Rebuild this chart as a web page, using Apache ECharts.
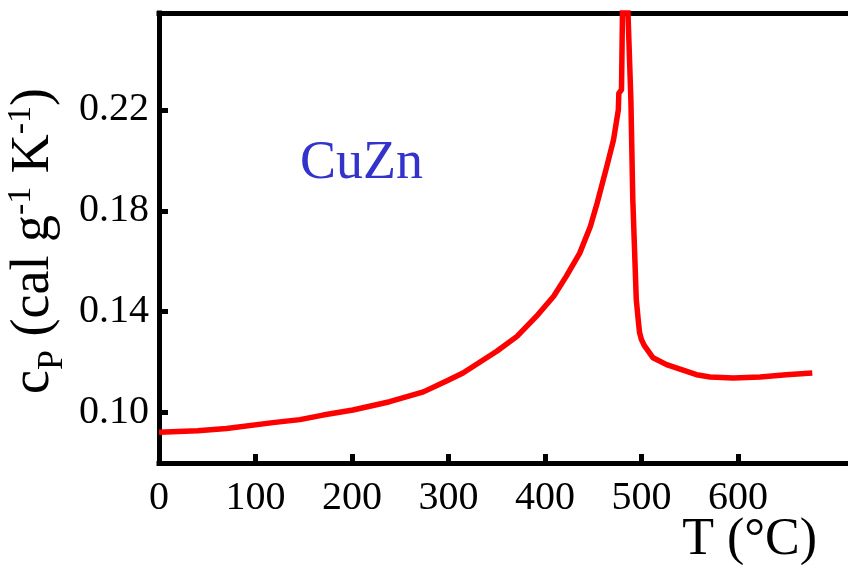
<!DOCTYPE html>
<html>
<head>
<meta charset="utf-8">
<style>html,body{margin:0;padding:0;background:#fff;}#chart{width:848px;height:566px;}</style>
<script src="https://cdn.jsdelivr.net/npm/echarts@6/dist/echarts.min.js"></script>
</head>
<body>
<div id="chart"></div>
<script>
// Temperature (°C)
const temps = [0, 40, 70, 118, 146, 170, 201, 239, 274, 298, 315, 350, 371, 391, 409, 422, 436, 447, 454, 464, 471, 476, 476.5, 479.3, 480.5, 485.5, 486, 489, 491, 494.6, 496.6, 498, 500, 503, 512, 526, 557, 571, 595, 623, 650, 677];
// Specific heat cP (cal g^-1 K^-1)
const cps = [0.0922, 0.0928, 0.0937, 0.0960, 0.0972, 0.0990, 0.1010, 0.1043, 0.1082, 0.1125, 0.1157, 0.1243, 0.1302, 0.1381, 0.1461, 0.1540, 0.1632, 0.1738, 0.1830, 0.1975, 0.2081, 0.2200, 0.2265, 0.2280, 0.2650, 0.2650, 0.2584, 0.2240, 0.1844, 0.1448, 0.1368, 0.1317, 0.1289, 0.1265, 0.1217, 0.1190, 0.1150, 0.1141, 0.1137, 0.1141, 0.1150, 0.1157];
const xTickLabels = [0, 100, 200, 300, 400, 500, 600];
const yTickLabels = [0.10, 0.14, 0.18, 0.22];
const materialLabel = 'CuZn';
const xTitle = 'T (°C)';
const yTitle = '{m|c}{sub|P}{m| (cal g}{sup|-1}{m| K}{sup|-1}{m|)}';

const serif = '"Liberation Serif", "Times New Roman", serif';
const chart = echarts.init(document.getElementById('chart'), null, {renderer: 'canvas'});
const axisLineStyle = {color: '#000', width: 5, cap: 'square'};

chart.setOption({
  backgroundColor: '#fff',
  animation: false,
  grid: {left: 159, right: 0, top: 13, bottom: 103, containLabel: false, outerBoundsMode: 'none'},
  xAxis: [{
    type: 'value', min: 0, max: 714, position: 'bottom',
    axisLine: {show: true, onZero: false, lineStyle: axisLineStyle},
    axisTick: {show: true, inside: true, length: 9, lineStyle: {color: '#000', width: 5}, customValues: xTickLabels},
    axisLabel: {show: true, margin: 15, color: '#000', fontFamily: serif, fontSize: 40, customValues: xTickLabels, formatter: v => String(v)},
    splitLine: {show: false}
  }, {
    type: 'value', min: 0, max: 714, position: 'top',
    axisLine: {show: true, onZero: false, lineStyle: axisLineStyle},
    axisTick: {show: false}, axisLabel: {show: false}, splitLine: {show: false}
  }],
  yAxis: {
    type: 'value', min: 0.08, max: 0.2584,
    axisLine: {show: true, onZero: false, lineStyle: axisLineStyle},
    axisTick: {show: true, inside: true, length: 9, lineStyle: {color: '#000', width: 5}, customValues: yTickLabels},
    axisLabel: {show: true, margin: 10, color: '#000', fontFamily: serif, fontSize: 40, customValues: yTickLabels, formatter: v => v.toFixed(2)},
    splitLine: {show: false}
  },
  graphic: [
    {type: 'text', x: 300, y: 164, style: {text: materialLabel, fill: '#3333cc', font: '54px ' + serif, align: 'left', verticalAlign: 'middle'}},
    {type: 'text', x: 817, y: 540, style: {text: xTitle, fill: '#000', font: '52px ' + serif, align: 'right', verticalAlign: 'middle'}},
    {type: 'text', x: 34, y: 241, rotation: Math.PI / 2, style: {
      text: yTitle, fill: '#000', font: '54px ' + serif, align: 'center', verticalAlign: 'middle', lineHeight: 76,
      rich: {
        m: {font: '54px ' + serif, fontFamily: serif, fontSize: 54, fill: '#000', lineHeight: 76, verticalAlign: 'middle'},
        sub: {font: '36px ' + serif, fontFamily: serif, fontSize: 36, fill: '#000', lineHeight: 36, verticalAlign: 'top', padding: [39, 0, 0, 0]},
        sup: {font: '34px ' + serif, fontFamily: serif, fontSize: 34, fill: '#000', lineHeight: 34, verticalAlign: 'top', padding: [8, 0, 0, 0]}
      }
    }}
  ],
  series: [{
    type: 'line', xAxisIndex: 0, yAxisIndex: 0,
    data: temps.map((t, i) => [t, cps[i]]),
    showSymbol: false, symbol: 'none', smooth: false, clip: true,
    lineStyle: {color: '#ff0000', width: 5.5, join: 'round'}
  }]
});
</script>
</body>
</html>
